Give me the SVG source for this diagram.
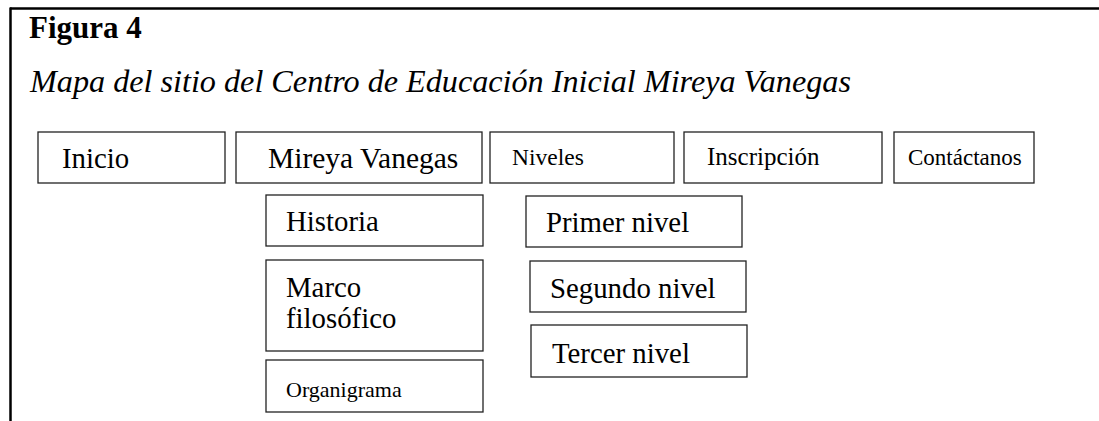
<svg xmlns="http://www.w3.org/2000/svg" width="1099" height="421" viewBox="0 0 1099 421">
<style>
.box{fill:#fff;stroke:#222;stroke-width:1.3}
.t{font-family:"Liberation Serif","Times New Roman",serif;fill:#000}
.l{font-size:28.8px}
.s{font-size:23.5px}
</style>
<rect width="1099" height="421" fill="#fff"/>
<g id="frame">
<line x1="10" y1="8.5" x2="1099" y2="8.5" stroke="#000" stroke-width="2.5"/>
<line x1="10.5" y1="7.5" x2="10.5" y2="421" stroke="#000" stroke-width="2.5"/>
</g>
<text class="t" x="29" y="38" font-size="31" font-weight="bold">Figura 4</text>
<text class="t" x="30" y="92" font-size="32.2" font-style="italic">Mapa del sitio del Centro de Educación Inicial Mireya Vanegas</text>
<g id="connectors"></g>
<g id="n-inicio"><rect class="box" x="38" y="132" width="187" height="51"/><text class="t l" x="62" y="168">Inicio</text></g>
<g id="n-mireya"><rect class="box" x="236" y="132" width="246" height="51"/><text class="t l" x="268" y="168" style="font-size:29.5px">Mireya Vanegas</text></g>
<g id="n-niveles"><rect class="box" x="490" y="132" width="184" height="51"/><text class="t s" x="512" y="165">Niveles</text></g>
<g id="n-inscripcion"><rect class="box" x="684" y="132" width="198" height="51"/><text class="t s" x="707" y="165" style="font-size:25px">Inscripción</text></g>
<g id="n-contactanos"><rect class="box" x="894" y="132" width="140" height="51"/><text class="t s" x="908" y="165" style="font-size:23px">Contáctanos</text></g>
<g id="n-historia"><rect class="box" x="266" y="195" width="217" height="51"/><text class="t l" x="286" y="231">Historia</text></g>
<g id="n-marco"><rect class="box" x="266" y="260" width="217" height="91"/><text class="t l" x="286" y="297">Marco</text><text class="t l" x="286" y="328">filosófico</text></g>
<g id="n-organigrama"><rect class="box" x="266" y="360" width="217" height="52"/><text class="t s" x="286" y="397" style="font-size:22px">Organigrama</text></g>
<g id="n-primer"><rect class="box" x="526" y="196" width="216" height="51"/><text class="t l" x="546" y="232">Primer nivel</text></g>
<g id="n-segundo"><rect class="box" x="530" y="261" width="216" height="51"/><text class="t l" x="550" y="298">Segundo nivel</text></g>
<g id="n-tercer"><rect class="box" x="531" y="325" width="216" height="52"/><text class="t l" x="552" y="363">Tercer nivel</text></g>
</svg>
